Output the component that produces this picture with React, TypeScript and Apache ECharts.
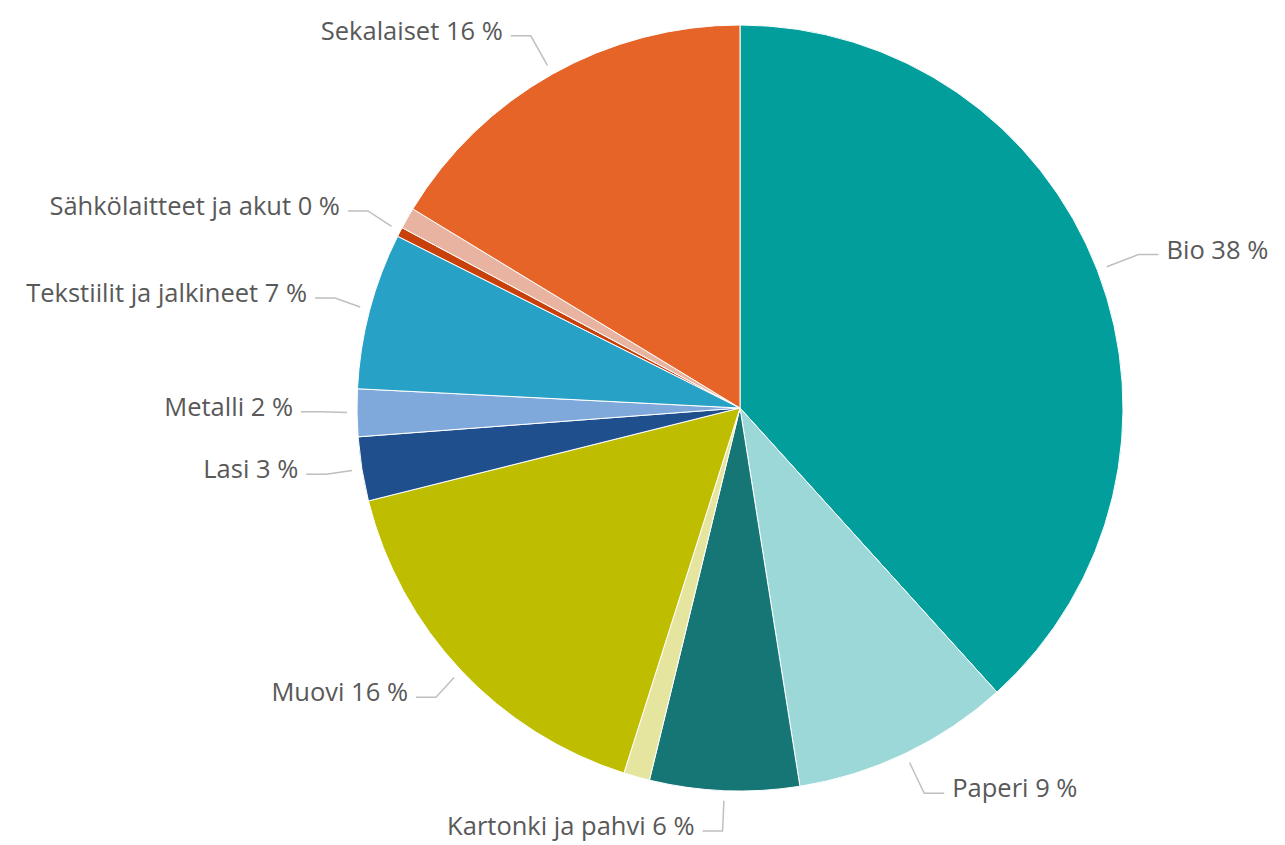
import React, { useEffect, useRef } from "react";
import * as echarts from "echarts";

const categories = [
  "Bio",
  "Paperi",
  "Kartonki ja pahvi",
  "Muu 1",
  "Muovi",
  "Lasi",
  "Metalli",
  "Tekstiilit ja jalkineet",
  "Sähkölaitteet ja akut",
  "Muu 2",
  "Sekalaiset",
];
const values = [38.3, 9.2, 6.3, 1.1, 16.2, 2.7, 2.0, 6.6, 0.4, 0.9, 16.3];
const showLabel = [true, true, true, false, true, true, true, true, true, false, true];
const colors = [
  "#019E9B",
  "#9DD8D9",
  "#167676",
  "#E5E5A0",
  "#BFBD00",
  "#1F4F8C",
  "#7FA9DB",
  "#28A1C6",
  "#C8410B",
  "#E8B3A0",
  "#E66428",
];

export default function App() {
  const ref = useRef<HTMLDivElement>(null);
  useEffect(() => {
    if (!ref.current) return;
    const chart = echarts.init(ref.current, undefined, { renderer: "svg" });
    const data = categories.map((name, i) => ({
      name,
      value: values[i],
      itemStyle: { color: colors[i] },
      label: { show: showLabel[i] },
      labelLine: { show: showLabel[i] },
    }));
    chart.setOption({
      animation: false,
      backgroundColor: "#ffffff",
      series: [
        {
          type: "pie",
          center: [740, 408],
          radius: 383,
          startAngle: 90,
          clockwise: true,
          avoidLabelOverlap: true,
          itemStyle: { borderColor: "#ffffff", borderWidth: 1 },
          label: {
            show: true,
            position: "outside",
            color: "#595959",
            fontSize: 25.5,
            fontFamily: "Open Sans",
            distanceToLabelLine: 8,
            formatter: (p: any) => `${p.name} ${Math.round(p.value)} %`,
          },
          labelLine: {
            show: true,
            length: 44,
            length2: 20,
            smooth: false,
            lineStyle: { color: "#BFBFBF", width: 1.5 },
          },
          labelLayout: (params: any) => {
            const pts = params.labelLinePoints;
            if (!pts || pts.length < 2) return {};
            const [x0, y0] = pts[0];
            const [x1, y1] = pts[1];
            const dx = x1 - x0;
            const dy = y1 - y0;
            const d = Math.sqrt(dx * dx + dy * dy) || 1;
            const gap = 10;
            const np = pts.map((p: number[]) => [p[0], p[1]]);
            np[0] = [x0 + (dx / d) * gap, y0 + (dy / d) * gap];
            const r = params.labelRect;
            return {
              y: r.y + r.height / 2 - 6,
              verticalAlign: "middle",
              labelLinePoints: np,
            };
          },
          data,
        },
      ],
    });
    return () => chart.dispose();
  }, []);
  return (
    <div
      ref={ref}
      style={{ position: "fixed", left: 0, top: 0, width: 1285, height: 845 }}
    />
  );
}
